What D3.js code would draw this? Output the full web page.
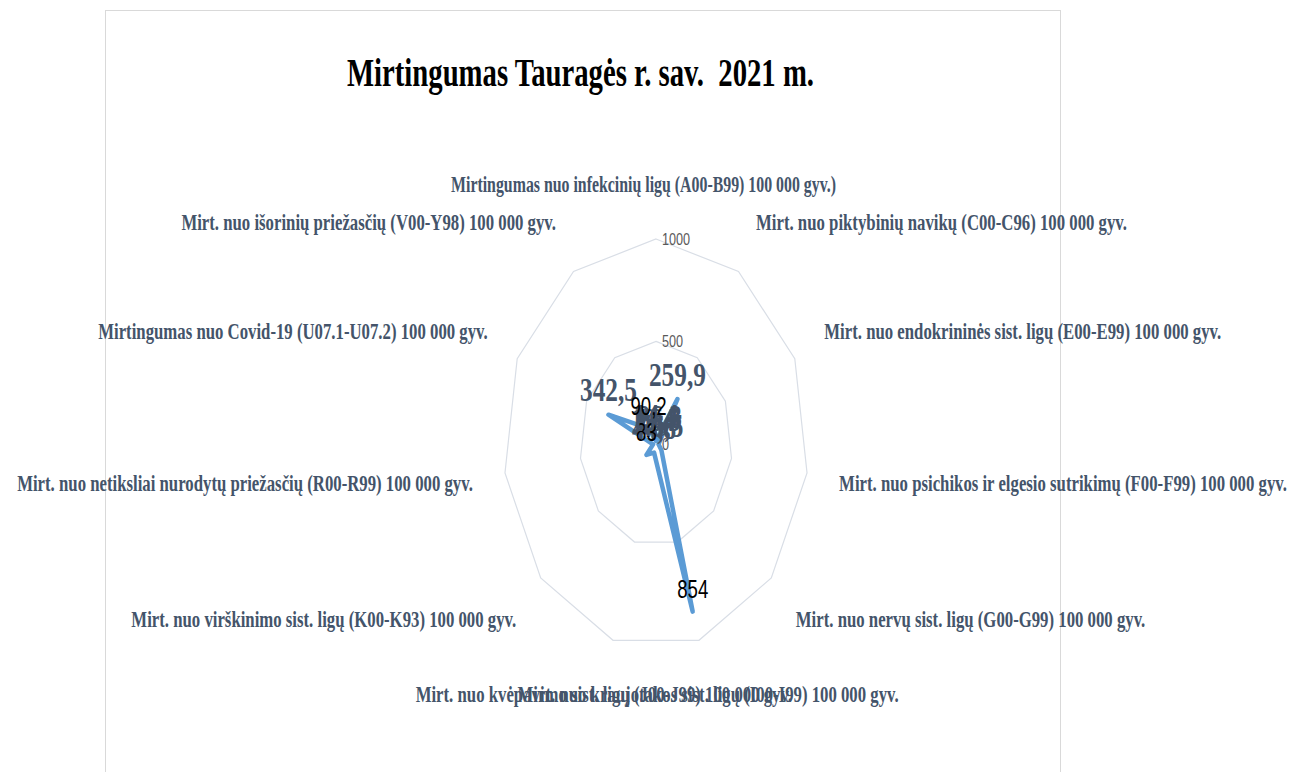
<!DOCTYPE html>
<html><head><meta charset="utf-8">
<script src="https://cdn.jsdelivr.net/npm/d3@7/dist/d3.min.js"></script>
<style>body{margin:0;background:#fff}svg{display:block}</style>
</head><body>
<svg id="c" width="1297" height="772"></svg>
<script>
const title = "Mirtingumas Tauragės r. sav.  2021 m.";
const categories = [
  "Mirtingumas nuo infekcinių ligų (A00-B99) 100 000 gyv.)",
  "Mirt. nuo piktybinių navikų (C00-C96) 100 000 gyv.",
  "Mirt. nuo endokrininės sist. ligų (E00-E99) 100 000 gyv.",
  "Mirt. nuo psichikos ir elgesio sutrikimų (F00-F99) 100 000 gyv.",
  "Mirt. nuo nervų sist. ligų (G00-G99) 100 000 gyv.",
  "Mirt. nuo kraujotakos sist. ligų (I00-I99) 100 000 gyv.",
  "Mirt. nuo kvėpavimo sist. ligų (J00-J99) 100 000 gyv.",
  "Mirt. nuo virškinimo sist. ligų (K00-K93) 100 000 gyv.",
  "Mirt. nuo netiksliai nurodytų priežasčių (R00-R99) 100 000 gyv.",
  "Mirtingumas nuo Covid-19 (U07.1-U07.2) 100 000 gyv.",
  "Mirt. nuo išorinių priežasčių (V00-Y98) 100 000 gyv."
];
const values = [14.4, 259.9, 26.3, 16.5, 46.5, 854, 44.8, 83, 19.4, 342.5, 90.2];
const valueLabels = ["14,4", "259,9", "26,3", "16,5", "46,5", "854", "44,8", "83", "19,4", "342,5", "90,2"];
const tickValues = [0, 500, 1000];
const gridValues = [500, 1000];

// layout / style
const sx = 0.745, cx = 656, cy = 443.8, R = 204.8;
const blackLabels = new Set([5, 7, 10]);
const serif = "'Liberation Serif','Times New Roman',serif";
const sans = "'Liberation Sans',Arial,sans-serif";
const slate = "#44546A";

const svg = d3.select("#c");
svg.append("rect").attr("x", 105.5).attr("y", 10.5).attr("width", 955).attr("height", 800)
  .attr("fill", "#fff").attr("stroke", "#D9D9D9").attr("stroke-width", 1);

svg.append("g").attr("transform", `translate(580.5,0) scale(0.718,1)`)
  .append("text").attr("x", 0).attr("y", 86).attr("text-anchor", "middle")
  .attr("font-family", serif).attr("font-weight", "bold").attr("font-size", 40)
  .attr("fill", "#000").style("white-space", "pre").text(title);

const n = categories.length;
const angle = d3.scaleLinear().domain([0, n]).range([0, 2 * Math.PI]);
const r = d3.scaleLinear().domain([0, 1000]).range([0, R]);

const g = svg.append("g").attr("transform", `translate(${cx},${cy}) scale(${sx},1)`);

// grid rings
gridValues.forEach(t => {
  g.append("path")
    .attr("d", d3.lineRadial().curve(d3.curveLinearClosed)
      .angle((d, i) => angle(i)).radius(() => r(t))(categories))
    .attr("fill", "none").attr("stroke", "#D9DEE6").attr("stroke-width", 1.2)
    .attr("vector-effect", "non-scaling-stroke");
});

// tick labels
g.selectAll("text.tick").data(tickValues).join("text").attr("class", "tick")
  .attr("x", 8).attr("y", d => -r(d)).attr("dy", "0.35em")
  .attr("font-family", sans).attr("font-size", 17).attr("fill", "#595959")
  .text(d => d);

// series line
g.append("path")
  .attr("d", d3.lineRadial().curve(d3.curveLinearClosed)
    .angle((d, i) => angle(i)).radius(d => r(d))(values))
  .attr("fill", "none").attr("stroke", "#5B9BD5").attr("stroke-width", 4.5)
  .attr("stroke-linejoin", "round").attr("stroke-linecap", "round")
  .attr("vector-effect", "non-scaling-stroke");

// data labels
values.forEach((v, i) => {
  const a = angle(i);
  const px = r(v) * Math.sin(a), py = -r(v) * Math.cos(a);
  const black = blackLabels.has(i);
  g.append("text").attr("x", px).attr("y", py - 13.5).attr("text-anchor", "middle")
    .attr("font-family", black ? sans : serif)
    .attr("font-weight", black ? "normal" : "bold")
    .attr("font-size", black ? 25 : 34)
    .attr("fill", black ? "#000" : slate)
    .text(valueLabels[i]);
});

// category labels
categories.forEach((c, i) => {
  const a = angle(i);
  const s = Math.sin(a), co = Math.cos(a);
  const ry = 260 + 14 * s * s;
  const lx = s * 185 / sx, ly = -co * ry;
  const anchor = Math.abs(s) < 0.3 ? "middle" : (s > 0 ? "start" : "end");
  const t = g.append("text").attr("x", lx).attr("y", ly).attr("dy", "0.35em")
    .attr("text-anchor", anchor)
    .attr("font-family", serif).attr("font-weight", "bold").attr("font-size", 22.5)
    .attr("fill", slate).text(c);
  if (i === 0) t.attr("x", lx - 12.5 / sx).attr("textLength", 385 / sx).attr("lengthAdjust", "spacingAndGlyphs");
});
</script>
</body></html>
